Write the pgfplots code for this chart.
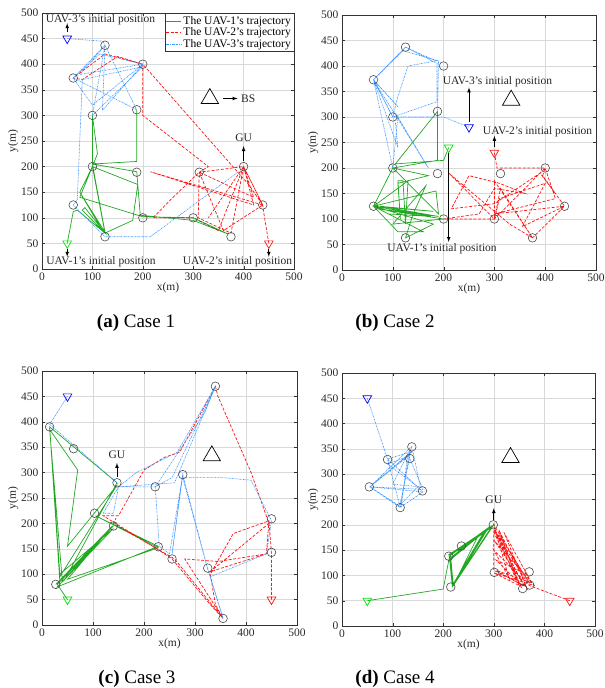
\documentclass[border=0pt]{standalone}
\usepackage{pgfplots}
\pgfplotsset{compat=1.18}
\usepackage{fontspec}
\setmainfont{Liberation Serif}
\definecolor{ugreen}{RGB}{34,168,34}
\definecolor{ured}{RGB}{255,20,20}
\definecolor{ublue}{RGB}{60,150,255}
\definecolor{igreen}{RGB}{0,230,0}
\definecolor{iblue}{RGB}{0,0,255}
\definecolor{txt}{RGB}{40,40,40}
\tikzset{
  lab/.style={font=\fontsize{11.5}{13}\selectfont, text=black!85},
  arr/.style={-latex, line width=0.7pt, black},
}
\pgfplotsset{
  uavaxis/.style={
    scale only axis, anchor=south west,
    xmin=0, xmax=500, ymin=0, ymax=500,
    xtick={0,100,...,500}, ytick={0,50,...,500},
    grid=major, grid style={black!15, line width=0.5pt},
    axis line style={black!80, line width=0.5pt},
    tick align=inside, major tick length=3pt, tick style={black!80},
    ticklabel style={font=\fontsize{11.5}{13}\selectfont, text=txt},
    /pgf/number format/assume math mode=true,
    xlabel={x(m)}, ylabel={y(m)},
    label style={font=\fontsize{11.5}{13}\selectfont, text=txt},
    xlabel style={yshift=5pt}, ylabel style={yshift=-4pt},
    clip=true,
  },
  g1/.style={ugreen, line width=0.7pt},
  r2/.style={ured, line width=0.7pt, dash pattern=on 3pt off 1.6pt},
  b3/.style={ublue, line width=0.6pt, dash pattern=on 1.5pt off 0.8pt on 0.5pt off 0.8pt},
  users/.style={only marks, mark=o, mark size=4.3pt, black!70, mark options={line width=0.6pt}},
  init/.style={only marks, mark=triangle, mark size=5pt, mark options={rotate=180, line width=0.7pt}},
  bs/.style={only marks, mark=triangle, mark size=10pt, black, mark options={line width=0.7pt}},
}
\begin{document}
\begin{tikzpicture}[x=1pt,y=1pt]
\path[use as bounding box] (0,0) rectangle (605,688);

% ---------------- (a) ----------------
\begin{axis}[uavaxis, at={(42pt,419pt)}, width=252pt, height=256pt,
  legend style={at={(1,1)}, anchor=north east, font=\fontsize{11.5}{12}\selectfont, draw=black!80, inner sep=1pt, row sep=-2pt, legend cell align=left},
  legend image code/.code={\draw[#1] (0pt,0pt) -- (15pt,0pt);}]
\addplot[g1] coordinates {(50,50) (62,112) (70,115) (125,70) (85,120) (80,115) (120,75) (75,150) (100,200) (125,70) (180,95) (190,165) (100,200) (75,150) (125,72) (100,205) (188,190) (195,105) (300,95) (370,68) (300,100) (200,102) (75,140) (100,200) (110,225) (100,300) (100,205) (188,210) (188,311)};
\addlegendentry{The UAV-1's trajectory}
\addplot[r2] coordinates {(450,50) (440,110) (438,125) (400,200) (375,70) (310,100) (312,189) (400,200) (420,125) (215,190) (438,125) (400,200) (350,75) (300,100) (220,100) (260,140) (312,189) (330,200) (200,300) (200,400) (150,415) (80,370) (62,373) (125,420) (200,400) (410,165) (438,125) (360,75) (312,189) (420,140) (400,200) (330,100)};
\addlegendentry{The UAV-2's trajectory}
\addplot[b3] coordinates {(50,450) (120,445) (125,437) (75,380) (200,400) (100,320) (62,373) (125,437) (120,310) (200,400) (115,420) (62,373) (150,330) (188,311) (125,437) (100,300) (200,395) (80,370) (70,135) (62,125) (125,63) (215,63) (390,190)};
\addlegendentry{The UAV-3's trajectory}
\addplot[users, forget plot] coordinates {(125,437) (200,400) (62,373) (100,300) (188,311) (100,200) (188,189) (62,125) (125,63) (200,100) (300,100) (312,189) (400,200) (438,125) (375,63)};
\addplot[init, igreen, forget plot] coordinates {(50,50)};
\addplot[init, ured, forget plot] coordinates {(450,50)};
\addplot[init, iblue, forget plot] coordinates {(50,450)};
\addplot[bs, forget plot] coordinates {(333,333)};
\draw[arr] (axis cs:50,462) -- (axis cs:50,480);
\node[lab] at (axis cs:116,486) {UAV-3's initial position};
\draw[arr] (axis cs:50,40) -- (axis cs:50,24);
\node[lab] at (axis cs:117,14) {UAV-1's initial position};
\draw[arr] (axis cs:450,40) -- (axis cs:450,24);
\node[lab] at (axis cs:388,14) {UAV-2's initial position};
\draw[arr] (axis cs:400,210) -- (axis cs:400,240);
\node[lab] at (axis cs:400,256) {GU};
\draw[arr] (axis cs:359,333) -- (axis cs:388,333);
\node[lab] at (axis cs:409,333) {BS};
\end{axis}

% ---------------- (b) ----------------
\begin{axis}[uavaxis, at={(342pt,418pt)}, width=254pt, height=255pt]
\addplot[g1] coordinates {(210,240) (200,215) (105,208) (188,311) (188,215) (100,200) (170,185) (110,170) (115,100) (110,175) (120,175) (125,90) (130,175) (62,125) (180,115) (75,125) (190,105) (70,120) (200,100) (100,90) (165,165) (140,110) (125,63) (180,90) (62,125) (110,75) (160,75) (62,125) (185,155) (190,110) (100,200) (62,125) (150,110) (175,105) (90,110)};
\addplot[r2] coordinates {(300,230) (305,200) (400,200) (395,185) (438,125) (375,63) (312,160) (300,100) (400,200) (420,140) (300,110) (438,125) (355,85) (400,170) (310,140) (300,100) (300,175) (375,63) (330,90) (210,190) (300,100) (200,100) (270,110) (300,160) (360,150) (310,170) (250,185) (215,120) (300,130) (390,190) (420,150)};
\addplot[b3] coordinates {(250,280) (200,300) (100,300) (187,330) (187,405) (125,437) (62,373) (110,320) (62,373) (125,437) (185,410) (130,400) (110,340) (100,300) (62,373) (100,200) (110,300) (170,200) (62,373) (100,300) (188,300) (190,410) (120,430) (62,373) (110,240) (105,290)};
\addplot[users] coordinates {(125,437) (200,400) (62,373) (100,300) (188,311) (100,200) (188,189) (62,125) (125,63) (200,100) (300,100) (312,189) (400,200) (438,125) (375,63)};
\addplot[init, igreen] coordinates {(210,240)};
\addplot[init, ured] coordinates {(300,230)};
\addplot[init, iblue] coordinates {(250,280)};
\addplot[bs] coordinates {(333,333)};
\draw[arr] (axis cs:250,290) -- (axis cs:250,358);
\node[lab] at (axis cs:306,369) {UAV-3's initial position};
\draw[arr] (axis cs:300,242) -- (axis cs:300,263);
\node[lab] at (axis cs:385,271) {UAV-2's initial position};
\draw[arr] (axis cs:210,230) -- (axis cs:210,55);
\node[lab] at (axis cs:197,41) {UAV-1's initial position};
\end{axis}

% ---------------- (c) ----------------
\begin{axis}[uavaxis, at={(42pt,63pt)}, width=255pt, height=254pt]
\addplot[g1] coordinates {(50,50) (30,80) (140,195) (35,85) (15,390) (35,100) (140,190) (40,85) (15,385) (70,305) (50,155) (147,275) (35,95) (15,390) (147,280) (45,90) (135,190) (30,75) (228,155) (105,215) (228,152) (50,90) (138,195) (27,80)};
\addplot[r2] coordinates {(450,50) (450,140) (445,205) (440,140) (345,125) (280,130) (355,13) (330,40) (255,130) (225,150) (120,215) (150,215) (200,305) (240,330) (270,340) (340,470) (345,450) (410,300) (445,200) (330,105) (440,140) (445,205) (375,180) (330,100) (340,40) (355,13) (260,130) (140,200) (145,210)};
\addplot[b3] coordinates {(50,450) (15,395) (147,280) (150,272) (210,272) (222,272) (255,290) (340,470) (260,280) (150,272) (140,220) (120,220) (150,272) (185,300) (265,340) (340,470) (320,420) (222,272) (230,155) (250,140) (276,296) (255,140) (276,296) (325,110) (330,95) (440,140) (450,205) (410,285) (355,290) (276,290) (325,110) (355,13) (330,95)};
\addplot[users] coordinates {(15,390) (62,347) (147,280) (103,220) (140,195) (222,272) (276,296) (228,154) (255,130) (325,112) (355,13) (340,470) (450,209) (450,143) (27,80)};
\addplot[init, igreen] coordinates {(50,50)};
\addplot[init, ured] coordinates {(450,50)};
\addplot[init, iblue] coordinates {(50,450)};
\addplot[bs] coordinates {(333,333)};
\draw[arr] (axis cs:147,291) -- (axis cs:147,319);
\node[lab] at (axis cs:147,336) {GU};
\end{axis}

% ---------------- (d) ----------------
\begin{axis}[uavaxis, at={(342pt,62pt)}, width=253pt, height=253pt]
\addplot[g1] coordinates {(50,50) (200,73) (213,140) (218,78) (290,195) (215,140) (218,80) (280,185) (213,130) (235,150) (300,200) (220,80) (215,135) (270,180) (225,90) (300,200) (210,140) (240,155) (295,195) (218,78) (212,138) (285,190) (222,85)};
\addplot[r2] coordinates {(450,50) (370,80) (300,190) (360,80) (300,110) (300,185) (355,75) (310,180) (370,85) (300,200) (330,95) (300,150) (360,90) (310,190) (350,80) (300,105) (380,80) (300,170) (365,75) (320,185) (375,85) (305,110) (360,78) (300,195) (345,90) (305,130) (370,100)};
\addplot[b3] coordinates {(50,450) (90,330) (138,345) (55,275) (160,265) (115,234) (55,275) (138,355) (115,240) (150,275) (90,320) (130,335) (55,275) (160,270) (130,340) (117,235) (55,275) (140,345) (155,275) (100,280) (135,350) (115,235) (90,330) (160,265)};
\addplot[users] coordinates {(90,329) (138,354) (134,331) (54,275) (159,267) (115,234) (299,200) (236,158) (211,138) (215,77) (301,106) (370,107) (357,74) (371,81)};
\addplot[init, igreen] coordinates {(50,50)};
\addplot[init, ured] coordinates {(450,50)};
\addplot[init, iblue] coordinates {(50,450)};
\addplot[bs] coordinates {(333,333)};
\draw[arr] (axis cs:300,210) -- (axis cs:300,233);
\node[lab] at (axis cs:300,249) {GU};
\end{axis}

% captions
\node at (136,365) {\fontsize{19}{22}\selectfont\textbf{(a)} Case 1};
\node at (395,365) {\fontsize{19}{22}\selectfont\textbf{(b)} Case 2};
\node at (137,9) {\fontsize{19}{22}\selectfont\textbf{(c)} Case 3};
\node at (395,9) {\fontsize{19}{22}\selectfont\textbf{(d)} Case 4};
\end{tikzpicture}
\end{document}
